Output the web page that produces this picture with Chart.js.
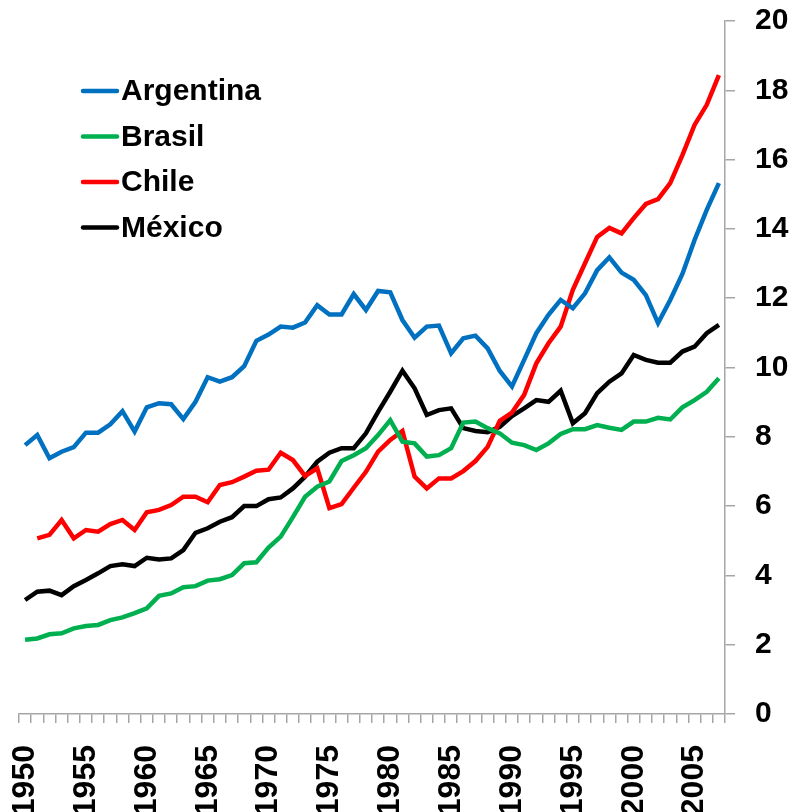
<!DOCTYPE html>
<html>
<head>
<meta charset="utf-8">
<script src="https://cdn.jsdelivr.net/npm/chart.js@4"></script>
<style>
    body { margin: 0; background: #fff; }
    #wrap { width: 794px; height: 812px; }
</style>
</head>
<body>
<div id="wrap"><canvas id="gdpChart" width="794" height="812"></canvas></div>
<script>
const years = [
    1950, 1951, 1952, 1953, 1954, 1955, 1956, 1957, 1958, 1959,
    1960, 1961, 1962, 1963, 1964, 1965, 1966, 1967, 1968, 1969,
    1970, 1971, 1972, 1973, 1974, 1975, 1976, 1977, 1978, 1979,
    1980, 1981, 1982, 1983, 1984, 1985, 1986, 1987, 1988, 1989,
    1990, 1991, 1992, 1993, 1994, 1995, 1996, 1997, 1998, 1999,
    2000, 2001, 2002, 2003, 2004, 2005, 2006, 2007
];

const argentina = [
    7.76, 8.05, 7.38, 7.57, 7.70, 8.12, 8.12, 8.36, 8.74, 8.15,
    8.85, 8.97, 8.94, 8.51, 9.01, 9.72, 9.59, 9.72, 10.04, 10.77,
    10.95, 11.18, 11.15, 11.30, 11.80, 11.53, 11.53, 12.12, 11.66, 12.21,
    12.17, 11.37, 10.86, 11.18, 11.21, 10.41, 10.84, 10.92, 10.55, 9.90,
    9.45, 10.22, 10.99, 11.52, 11.95, 11.71, 12.14, 12.81, 13.18, 12.74,
    12.53, 12.09, 11.28, 11.95, 12.70, 13.68, 14.55, 15.32
];

const brasil = [
    2.14, 2.18, 2.30, 2.33, 2.47, 2.54, 2.57, 2.71, 2.79, 2.91,
    3.05, 3.41, 3.48, 3.66, 3.69, 3.85, 3.89, 4.01, 4.35, 4.38,
    4.80, 5.12, 5.68, 6.27, 6.56, 6.71, 7.30, 7.47, 7.67, 8.05,
    8.48, 7.86, 7.81, 7.43, 7.47, 7.67, 8.41, 8.44, 8.25, 8.10,
    7.83, 7.76, 7.62, 7.81, 8.08, 8.22, 8.22, 8.34, 8.26, 8.20,
    8.44, 8.44, 8.55, 8.50, 8.85, 9.06, 9.30, 9.69
];

const chile = [
    null, 5.07, 5.17, 5.60, 5.07, 5.31, 5.26, 5.48, 5.60, 5.31,
    5.82, 5.89, 6.03, 6.27, 6.27, 6.11, 6.61, 6.69, 6.85, 7.02,
    7.05, 7.54, 7.33, 6.87, 7.09, 5.94, 6.06, 6.53, 6.99, 7.57,
    7.91, 8.17, 6.85, 6.51, 6.80, 6.80, 7.01, 7.30, 7.71, 8.46,
    8.70, 9.21, 10.12, 10.70, 11.18, 12.24, 13.01, 13.77, 14.03, 13.87,
    14.31, 14.72, 14.86, 15.32, 16.13, 17.00, 17.58, 18.44
];

const mexico = [
    3.29, 3.53, 3.56, 3.43, 3.69, 3.87, 4.06, 4.27, 4.32, 4.27,
    4.51, 4.46, 4.49, 4.73, 5.23, 5.36, 5.55, 5.68, 6.00, 6.00,
    6.20, 6.25, 6.51, 6.85, 7.28, 7.54, 7.67, 7.67, 8.10, 8.72,
    9.30, 9.91, 9.40, 8.63, 8.77, 8.82, 8.25, 8.17, 8.13, 8.29,
    8.60, 8.82, 9.06, 9.01, 9.33, 8.39, 8.68, 9.26, 9.59, 9.83,
    10.36, 10.22, 10.14, 10.14, 10.46, 10.60, 10.99, 11.23
];

const yTicks = [0, 2, 4, 6, 8, 10, 12, 14, 16, 18, 20];

const FONT = "'Liberation Sans', Arial, sans-serif";
const AXIS_GREY = '#a6a6a6';

// legend drawn inside the plot, top-left, like the Excel original
const insideLegend = {
    id: 'insideLegend',
    afterDraw(chart) {
        const ctx = chart.ctx;
        ctx.save();
        ctx.font = `bold 30px ${FONT}`;
        ctx.textBaseline = 'middle';
        ctx.textAlign = 'left';
        chart.data.datasets.forEach((ds, i) => {
            const y = 91 + i * 45.5;
            ctx.strokeStyle = ds.borderColor;
            ctx.lineWidth = 4.5;
            ctx.lineCap = 'round';
            ctx.beginPath();
            ctx.moveTo(83, y);
            ctx.lineTo(117, y);
            ctx.stroke();
            ctx.fillStyle = '#000';
            ctx.fillText(ds.label, 121, y + 1);
        });
        ctx.restore();
    }
};

const makeSeries = (label, data, color) => ({
    label: label,
    data: data,
    borderColor: color,
    backgroundColor: color,
    borderWidth: 4.5,
    pointRadius: 0,
    pointHoverRadius: 0,
    tension: 0,
    fill: false,
    spanGaps: false
});

const ctx = document.getElementById('gdpChart').getContext('2d');

new Chart(ctx, {
    type: 'line',
    data: {
        labels: years,
        datasets: [
            makeSeries('Argentina', argentina, '#0070C0'),
            makeSeries('Brasil', brasil, '#00B050'),
            makeSeries('Chile', chile, '#FF0000'),
            makeSeries('México', mexico, '#000000')
        ]
    },
    options: {
        responsive: false,
        animation: false,
        layout: {
            padding: { top: 21, left: 19, right: 0, bottom: 0 }
        },
        scales: {
            x: {
                type: 'category',
                offset: true,
                border: { display: true, color: AXIS_GREY, width: 1.5 },
                grid: {
                    offset: true,
                    drawOnChartArea: false,
                    drawTicks: true,
                    tickLength: 9,
                    color: AXIS_GREY,
                    lineWidth: 1.5
                },
                ticks: {
                    autoSkip: false,
                    maxRotation: 90,
                    minRotation: 90,
                    padding: 22,
                    color: '#000',
                    font: { family: FONT, size: 32, weight: 'bold' },
                    callback: function(value, index) {
                        const yr = years[index];
                        return yr % 5 === 0 ? String(yr) : '';
                    }
                },
                afterFit: (scale) => { scale.height = 98; }
            },
            y: {
                position: 'right',
                min: 0,
                max: 20,
                border: { display: true, color: AXIS_GREY, width: 1.5 },
                grid: {
                    drawOnChartArea: false,
                    drawTicks: true,
                    tickLength: 10,
                    color: AXIS_GREY,
                    lineWidth: 1.5
                },
                afterBuildTicks: (scale) => {
                    scale.ticks = yTicks.map(v => ({ value: v }));
                },
                ticks: {
                    padding: 20,
                    color: '#000',
                    font: { family: FONT, size: 30, weight: 'bold' }
                },
                afterFit: (scale) => {
                    scale.width = 69;
                    scale.paddingTop = 0;
                    scale.paddingBottom = 0;
                }
            }
        },
        plugins: {
            legend: { display: false },
            tooltip: { enabled: false },
            title: { display: false }
        }
    },
    plugins: [insideLegend]
});
</script>
</body>
</html>
